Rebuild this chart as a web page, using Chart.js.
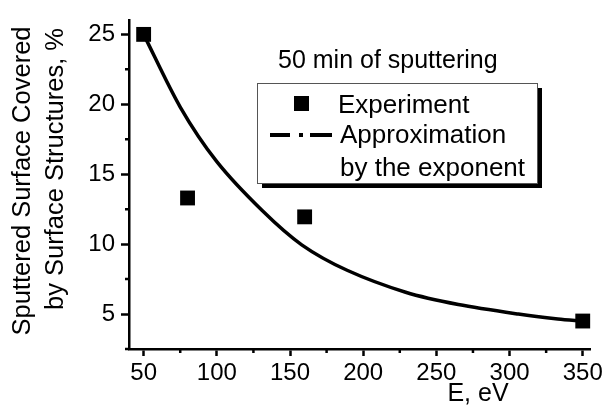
<!DOCTYPE html>
<html lang="en">
<head>
  <meta charset="UTF-8"/>
  <title>Sputtered surface vs E</title>
  <script src="https://cdn.jsdelivr.net/npm/chart.js@4.4.1/dist/chart.umd.min.js"></script>
  <style>
    html, body { margin: 0; padding: 0; background: #fff; }
    #wrap { width: 606px; height: 416px; }
  </style>
</head>
<body>
  <div id="wrap"><canvas id="chart"></canvas></div>
  <script>
    // experiment points (E in eV, % covered)
    const expE = [50, 80, 160, 350];
    const expPct = [25, 13.3, 11.95, 4.5];
    // exponential approximation
    const fitE = [50, 75, 100, 131, 158, 189, 229, 265, 306, 333, 350];
    const fitPct = [25, 19.8, 15.9, 12.4, 9.95, 8.13, 6.56, 5.68, 5.0, 4.65, 4.5];
    const xTicks = [50, 100, 150, 200, 250, 300, 350];
    const xMinor = [75, 125, 175, 225, 275, 325];
    const yTicks = [5, 10, 15, 20, 25];
    const yMinor = [2.5, 7.5, 12.5, 17.5, 22.5];

    const FONT = "'Liberation Sans', Arial, sans-serif";
    Chart.defaults.font.family = FONT;
    Chart.defaults.color = '#000';

    // minor ticks, axis titles and the boxed legend
    const extras = {
      id: 'extras',
      afterDraw(chart) {
        const ctx = chart.ctx;
        const xs = chart.scales.x, ys = chart.scales.y;
        const area = chart.chartArea;
        ctx.save();
        ctx.strokeStyle = '#000';
        ctx.lineWidth = 2.5;
        ctx.beginPath();
        xMinor.forEach(v => {
          const px = xs.getPixelForValue(v);
          ctx.moveTo(px, area.bottom);
          ctx.lineTo(px, area.bottom + 4);
        });
        yMinor.forEach(v => {
          const py = ys.getPixelForValue(v);
          ctx.moveTo(area.left, py);
          ctx.lineTo(area.left - 4, py);
        });
        ctx.stroke();

        ctx.fillStyle = '#000';
        ctx.font = '25px ' + FONT;
        ctx.textBaseline = 'alphabetic';
        // x title
        ctx.textAlign = 'center';
        ctx.fillText('E, eV', 478, 401);
        // y title, two rotated lines
        ctx.save();
        ctx.rotate(-Math.PI / 2);
        ctx.font = '25.5px ' + FONT;
        ctx.fillText('Sputtered Surface Covered', -181, 30);
        ctx.fillText('by Surface Structures, %', -169, 63);
        ctx.restore();

        // title inside the plot
        ctx.textAlign = 'left';
        ctx.font = '25px ' + FONT;
        ctx.fillText('50 min of sputtering', 278, 68);

        // legend box with drop shadow
        const bx = 257, by = 83, bw = 280, bh = 100;
        ctx.fillStyle = '#000';
        ctx.fillRect(bx + 5, by + 5, bw, bh);
        ctx.fillStyle = '#fff';
        ctx.fillRect(bx, by, bw, bh);
        ctx.strokeStyle = '#555';
        ctx.lineWidth = 1;
        ctx.strokeRect(bx + 0.5, by + 0.5, bw, bh);

        ctx.fillStyle = '#000';
        ctx.fillRect(294, 96, 15, 15);
        ctx.strokeStyle = '#000';
        ctx.lineWidth = 4;
        ctx.setLineDash([20, 9, 4, 7, 22]);
        ctx.beginPath();
        ctx.moveTo(270, 135);
        ctx.lineTo(332, 135);
        ctx.stroke();
        ctx.setLineDash([]);

        ctx.font = '26px ' + FONT;
        ctx.fillText('Experiment', 338, 113);
        ctx.fillText('Approximation', 340, 143);
        ctx.fillText('by the exponent', 340, 176);
        ctx.restore();
      }
    };

    new Chart(document.getElementById('chart'), {
      type: 'scatter',
      data: {
        datasets: [
          {
            label: 'Approximation by the exponent',
            type: 'line',
            data: fitE.map((e, i) => ({ x: e, y: fitPct[i] })),
            borderColor: '#000',
            borderWidth: 3.5,
            pointRadius: 0,
            tension: 0.3,
            fill: false,
            order: 2
          },
          {
            label: 'Experiment',
            data: expE.map((e, i) => ({ x: e, y: expPct[i] })),
            pointStyle: 'rect',
            pointRadius: 10.5,
            pointBackgroundColor: '#000',
            pointBorderWidth: 0,
            order: 1
          }
        ]
      },
      options: {
        responsive: true,
        maintainAspectRatio: false,
        animation: false,
        clip: false,
        layout: { padding: { left: 0, right: 14, top: 5, bottom: 0 } },
        plugins: { legend: { display: false }, tooltip: { enabled: false } },
        scales: {
          x: {
            type: 'linear',
            min: 40,
            max: 355.5,
            afterBuildTicks: s => { s.ticks = xTicks.map(v => ({ value: v })); },
            afterFit: s => { s.height = 67; },
            ticks: { font: { size: 24 }, padding: 3, maxRotation: 0, color: '#000' },
            grid: { drawOnChartArea: false, tickLength: 7, tickWidth: 2.5, tickColor: '#000' },
            border: { display: true, color: '#000', width: 2.5 }
          },
          y: {
            type: 'linear',
            min: 2.5,
            max: 26,
            afterBuildTicks: s => { s.ticks = yTicks.map(v => ({ value: v })); },
            afterFit: s => { s.width = 129; },
            ticks: { font: { size: 24 }, padding: 6, color: '#000' },
            grid: { drawOnChartArea: false, tickLength: 8, tickWidth: 2.5, tickColor: '#000' },
            border: { display: true, color: '#000', width: 2.5 }
          }
        }
      },
      plugins: [extras]
    });
  </script>
</body>
</html>
